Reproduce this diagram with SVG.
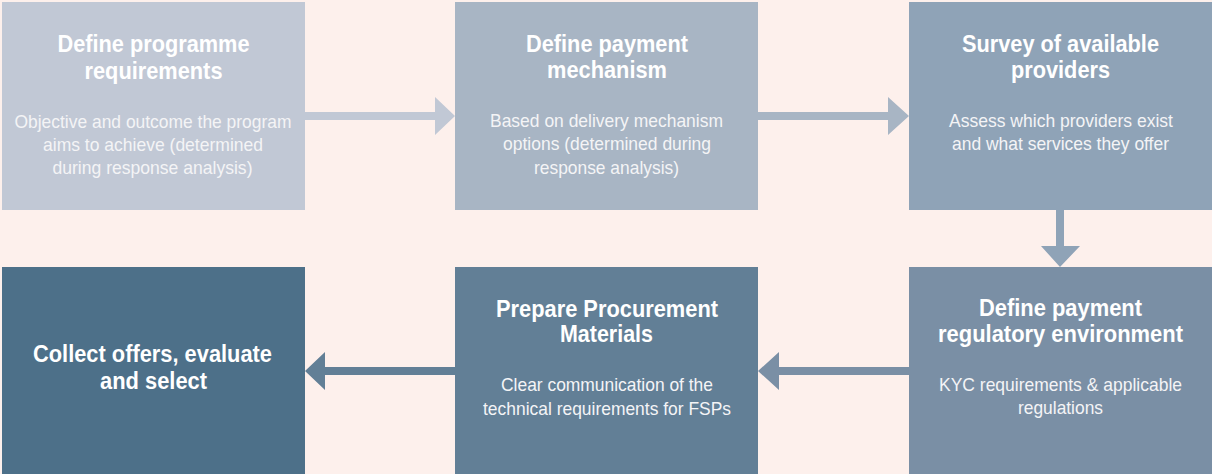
<svg xmlns="http://www.w3.org/2000/svg" width="1212" height="474" viewBox="0 0 1212 474">
<style>
.t{font-family:"Liberation Sans",Arial,sans-serif;font-weight:bold;font-size:24px;fill:#ffffff;text-anchor:middle}
.b{font-family:"Liberation Sans",Arial,sans-serif;font-size:19px;fill:#f4f4f6;text-anchor:middle}
</style>
<rect width="1212" height="474" fill="#fdf0ec"/>
<g id="connectors">
<polygon fill="#c1c8d5" points="305,112 435,112 435,97 455,116 435,135 435,120 305,120"/>
<polygon fill="#a8b5c4" points="758,112 888,112 888,97 909,116 888,135 888,120 758,120"/>
<polygon fill="#8fa3b7" points="1056,210 1064,210 1064,246 1080,246 1060,267 1041,246 1056,246"/>
<polygon fill="#7a8fa5" points="909,367 779,367 779,352 758,371 779,390 779,375 909,375"/>
<polygon fill="#627f96" points="455,367 325,367 325,352 305,371 325,390 325,375 455,375"/>
</g>
<g id="n1">
<rect x="2" y="2" width="303" height="208" fill="#c1c8d5"/>
<text class="t" x="153.5" y="52" textLength="192" lengthAdjust="spacingAndGlyphs">Define programme</text>
<text class="t" x="153.5" y="79" textLength="138" lengthAdjust="spacingAndGlyphs">requirements</text>
<text class="b" x="153" y="128" textLength="277" lengthAdjust="spacingAndGlyphs">Objective and outcome the program</text>
<text class="b" x="153" y="151" textLength="220" lengthAdjust="spacingAndGlyphs">aims to achieve (determined</text>
<text class="b" x="152.5" y="174" textLength="200" lengthAdjust="spacingAndGlyphs">during response analysis)</text>
</g>
<g id="n2">
<rect x="455" y="2" width="303" height="208" fill="#a8b5c4"/>
<text class="t" x="607" y="52" textLength="162" lengthAdjust="spacingAndGlyphs">Define payment</text>
<text class="t" x="607" y="78" textLength="120" lengthAdjust="spacingAndGlyphs">mechanism</text>
<text class="b" x="606.5" y="127" textLength="233" lengthAdjust="spacingAndGlyphs">Based on delivery mechanism</text>
<text class="b" x="607" y="150" textLength="208" lengthAdjust="spacingAndGlyphs">options (determined during</text>
<text class="b" x="606.5" y="174" textLength="145" lengthAdjust="spacingAndGlyphs">response analysis)</text>
</g>
<g id="n3">
<rect x="909" y="2" width="303" height="208" fill="#8fa3b7"/>
<text class="t" x="1060.5" y="52" textLength="197" lengthAdjust="spacingAndGlyphs">Survey of available</text>
<text class="t" x="1060.5" y="78" textLength="99" lengthAdjust="spacingAndGlyphs">providers</text>
<text class="b" x="1061" y="127" textLength="224" lengthAdjust="spacingAndGlyphs">Assess which providers exist</text>
<text class="b" x="1060.5" y="150" textLength="217" lengthAdjust="spacingAndGlyphs">and what services they offer</text>
</g>
<g id="n4">
<rect x="909" y="267" width="303" height="207" fill="#7a8fa5"/>
<text class="t" x="1060.5" y="316" textLength="163" lengthAdjust="spacingAndGlyphs">Define payment</text>
<text class="t" x="1060.5" y="342" textLength="245" lengthAdjust="spacingAndGlyphs">regulatory environment</text>
<text class="b" x="1060.5" y="391" textLength="243" lengthAdjust="spacingAndGlyphs">KYC requirements &amp; applicable</text>
<text class="b" x="1060.5" y="414" textLength="85" lengthAdjust="spacingAndGlyphs">regulations</text>
</g>
<g id="n5">
<rect x="455" y="267" width="303" height="207" fill="#627f96"/>
<text class="t" x="607" y="317" textLength="222" lengthAdjust="spacingAndGlyphs">Prepare Procurement</text>
<text class="t" x="606.5" y="342" textLength="93" lengthAdjust="spacingAndGlyphs">Materials</text>
<text class="b" x="607" y="391" textLength="212" lengthAdjust="spacingAndGlyphs">Clear communication of the</text>
<text class="b" x="607" y="415" textLength="248" lengthAdjust="spacingAndGlyphs">technical requirements for FSPs</text>
</g>
<g id="n6">
<rect x="2" y="267" width="303" height="207" fill="#4d7089"/>
<text class="t" x="152.5" y="362" textLength="239" lengthAdjust="spacingAndGlyphs">Collect offers, evaluate</text>
<text class="t" x="153.5" y="389" textLength="107" lengthAdjust="spacingAndGlyphs">and select</text>
</g>
</svg>
